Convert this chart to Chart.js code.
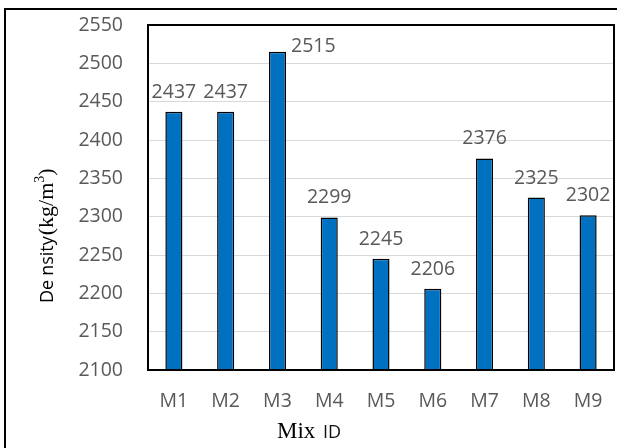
<!DOCTYPE html>
<html>
<head>
<meta charset="utf-8">
<script src="https://cdn.jsdelivr.net/npm/chart.js@4/dist/chart.umd.min.js"></script>
<style>
  html, body { margin: 0; padding: 0; background: #fff; overflow: hidden; }
  #wrap { position: relative; width: 617px; height: 448px; overflow: hidden; }
  #frame { position: absolute; left: 4px; top: 8px; width: 800px; height: 800px;
           border: 2px solid #000; box-sizing: border-box; }
  canvas { position: absolute; left: 0; top: 0; }
</style>
</head>
<body>
<div id="wrap">
  <div id="frame"></div>
  <canvas id="c" width="617" height="448"></canvas>
</div>
<script>
// Mix designs and their measured densities (kg/m3)
const mixIds = ['M1', 'M2', 'M3', 'M4', 'M5', 'M6', 'M7', 'M8', 'M9'];
const densities = [2437, 2437, 2515, 2299, 2245, 2206, 2376, 2325, 2302];
const yMin = 2100;
const yMax = 2550;
const yStep = 50;

const TEXT = '#595959';
const SANS = "'Open Sans', 'Noto Sans', sans-serif";
const SERIF = "'Liberation Serif', 'DejaVu Serif', serif";

// Black box around the plotting area
const plotBorder = {
  id: 'plotBorder',
  afterDatasetsDraw(chart) {
    const a = chart.chartArea, ctx = chart.ctx;
    ctx.save();
    ctx.strokeStyle = '#000';
    ctx.lineWidth = 2;
    ctx.strokeRect(a.left, a.top, a.right - a.left, a.bottom - a.top);
    ctx.restore();
  }
};

// Value printed over each bar; moved beside the bar when it would leave the plot
const valueLabels = {
  id: 'valueLabels',
  afterDraw(chart) {
    const ctx = chart.ctx, a = chart.chartArea;
    const meta = chart.getDatasetMeta(0);
    ctx.save();
    ctx.font = '19.5px ' + SANS;
    ctx.fillStyle = TEXT;
    ctx.textBaseline = 'alphabetic';
    meta.data.forEach((bar, i) => {
      const txt = String(chart.data.datasets[0].data[i]);
      const base = bar.y - 14;
      if (base - 14 < a.top) {
        ctx.textAlign = 'left';
        ctx.fillText(txt, bar.x + bar.width / 2 + 5, bar.y);
      } else {
        ctx.textAlign = 'center';
        ctx.fillText(txt, bar.x, base);
      }
    });
    ctx.restore();
  }
};

// Axis titles with mixed typefaces
const axisTitles = {
  id: 'axisTitles',
  afterDraw(chart) {
    const ctx = chart.ctx;
    ctx.save();
    ctx.fillStyle = '#000';
    ctx.textBaseline = 'alphabetic';
    ctx.textAlign = 'left';
    // x title: "Mix ID"
    let x = 277;
    ctx.font = '23px ' + SERIF;
    ctx.fillText('Mix', x, 438);
    x += ctx.measureText('Mix ').width + 2;
    ctx.font = '18px ' + SANS;
    ctx.fillStyle = '#111';
    ctx.fillText('ID', x, 438);

    // y title: "Density(kg/m³)" read bottom to top
    ctx.translate(53, 303);
    ctx.rotate(-Math.PI / 2);
    ctx.fillStyle = '#000';
    ctx.font = '18px ' + SANS;
    ctx.fillText('De', 0, 0);
    let p = ctx.measureText('De').width + 4;
    ctx.fillText('nsity', p, 0);
    p += ctx.measureText('nsity').width + 1;
    ctx.font = '22px ' + SERIF;
    ctx.fillText('(kg/m', p, 0);
    p += ctx.measureText('(kg/m').width;
    ctx.font = '14px ' + SERIF;
    ctx.fillText('3', p, -9);
    p += ctx.measureText('3').width;
    ctx.font = '22px ' + SERIF;
    ctx.fillText(')', p, 0);
    ctx.restore();
  }
};

new Chart(document.getElementById('c'), {
  type: 'bar',
  data: {
    labels: mixIds,
    datasets: [{
      data: densities,
      backgroundColor: '#0070C0',
      borderColor: '#000',
      borderWidth: 1.5,
      borderSkipped: 'bottom',
      barPercentage: 1,
      categoryPercentage: 0.33
    }]
  },
  options: {
    responsive: false,
    animation: false,
    devicePixelRatio: 1,
    layout: { padding: { left: 0, top: 25, right: 3, bottom: 0 } },
    plugins: { legend: { display: false }, tooltip: { enabled: false } },
    scales: {
      x: {
        grid: { display: false, drawTicks: false },
        border: { display: false },
        ticks: { color: TEXT, font: { family: SANS, size: 19.5 }, padding: 20, maxRotation: 0 },
        afterFit(s) { s.height = 78; s.paddingLeft = 0; s.paddingRight = 0; }
      },
      y: {
        min: yMin,
        max: yMax,
        grid: { color: '#d9d9d9', lineWidth: 1, drawTicks: false },
        border: { display: false },
        ticks: {
          stepSize: yStep, color: TEXT, font: { family: SANS, size: 19.5 }, padding: 25,
          callback: (v) => String(v)
        },
        afterFit(s) { s.width = 148; s.paddingTop = 0; s.paddingBottom = 0; }
      }
    }
  },
  plugins: [plotBorder, valueLabels, axisTitles]
});
</script>
</body>
</html>
